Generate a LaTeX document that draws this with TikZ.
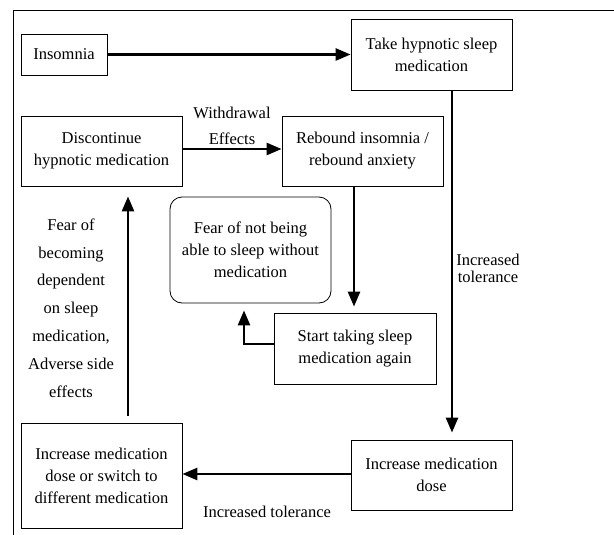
\documentclass[tikz,border=0pt]{standalone}
\usepackage{fontspec}
\setmainfont{Liberation Serif}
\usepackage{tikz}
\usetikzlibrary{arrows.meta}

\tikzset{
  stepbox/.style={draw, line width=0.8pt, align=center, inner sep=2pt,
    minimum width=161pt, font=\fontsize{16.5}{22}\selectfont},
  flow/.style={line width=2.6pt, -{Triangle[length=15pt,width=12pt]}},
  lbl/.style={align=center, font=\fontsize{16.5}{27.8}\selectfont}
}

\begin{document}
\begin{tikzpicture}[x=1pt, y=-1pt]
  \useasboundingbox (0,0) rectangle (614,535);
  % frame (top and left edges only)
  \draw[line width=0.8pt] (614,10) -- (13,10) -- (13,535);

  % boxes
  \node[stepbox, minimum width=86pt, minimum height=41pt] (ins) at (64,54.5) {Insomnia};
  \node[stepbox, minimum height=71pt] (take) at (431.5,54.5) {Take hypnotic sleep\\medication};
  \node[stepbox, minimum height=70pt] (disc) at (101.5,151) {Discontinue\\hypnotic medication};
  \node[stepbox, minimum height=70pt] (reb) at (362.5,151) {Rebound insomnia /\\rebound anxiety};
  \node[stepbox, rounded corners=12pt, minimum height=106pt] (fear) at (250.5,250) {Fear of not being\\able to sleep without\\medication};
  \node[stepbox, minimum width=162pt, minimum height=71pt] (start) at (355,348.5) {Start taking sleep\\medication again};
  \node[stepbox, minimum height=70pt] (incd) at (431.5,475) {Increase medication\\dose};
  \node[stepbox, minimum height=105pt] (incs) at (101.5,475.5) {Increase medication\\dose or switch to\\different medication};

  % connectors
  \draw[flow] (ins) -- (take);
  \draw[flow] ([yshift=2pt]disc.east) -- ([yshift=2pt]reb.west);
  \draw[flow, shorten >=7pt] ([xshift=20.5pt]take.south) -- ([xshift=20.5pt]take.south |- incd.north);
  \draw[flow, shorten >=6pt] ([xshift=-8.5pt]reb.south) -- ([xshift=-8.5pt]reb.south |- start.north);
  \draw[flow, shorten >=7pt] ([yshift=4.5pt]start.west) -| ([xshift=-6.5pt]fear.south);
  \draw[flow, shorten <=7pt, shorten >=10pt] ([xshift=26.5pt]incs.north) -- ([xshift=26.5pt]disc.south);
  \draw[flow] ([yshift=1pt]incd.west) -- ([yshift=1pt]incs.east |- incd.west);

  % labels
  \node[lbl, font=\fontsize{16.5}{26}\selectfont] (wd) at (232,126) {Withdrawal\\Effects};
  \node[lbl, font=\fontsize{16.5}{17}\selectfont] (tolr) at (488,268) {Increased\\tolerance};
  \node[lbl] (dep) at (71,308) {Fear of\\becoming\\dependent\\on sleep\\medication,\\Adverse side\\effects};
  \node[lbl] (tolb) at (267,512) {Increased tolerance};
\end{tikzpicture}
\end{document}
